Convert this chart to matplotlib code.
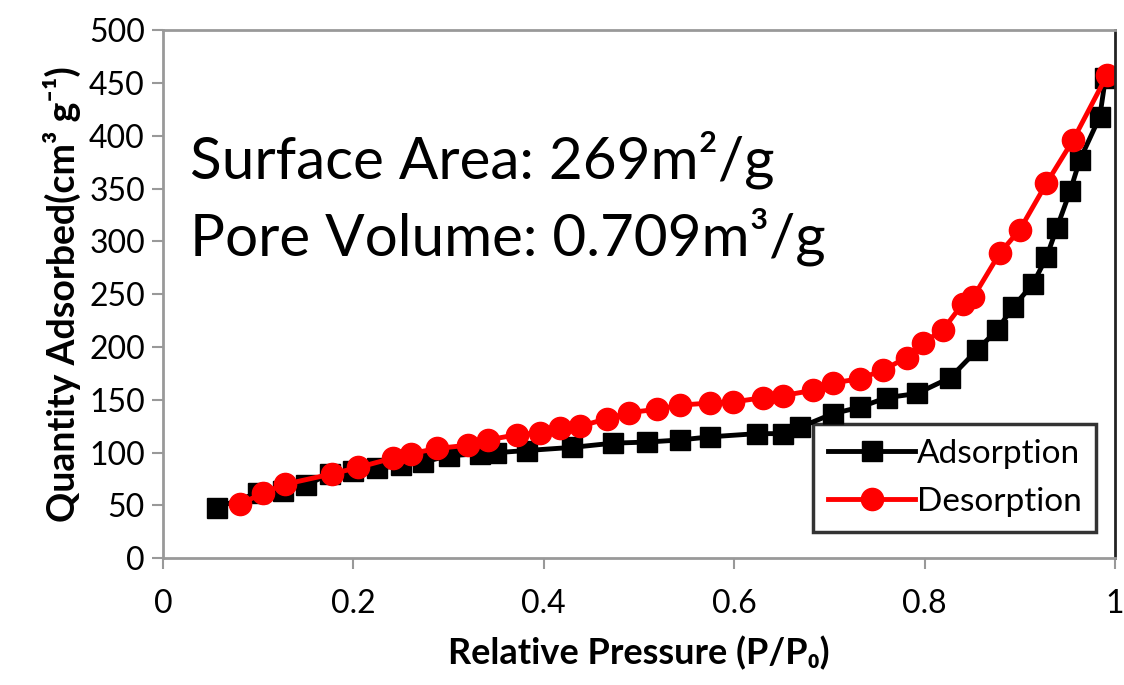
import matplotlib.pyplot as plt

# adsorption branch (squares)
ads_p = [0.057, 0.10, 0.126, 0.15, 0.175, 0.20, 0.225, 0.25, 0.273, 0.30, 0.333, 0.35,
         0.382, 0.43, 0.473, 0.508, 0.543, 0.575, 0.624, 0.651, 0.669, 0.704, 0.732,
         0.76, 0.792, 0.827, 0.855, 0.876, 0.893, 0.914, 0.928, 0.939, 0.953, 0.963,
         0.984, 0.99]
ads_q = [48, 62, 64, 69, 80, 83, 85, 88, 91, 97, 99, 100,
         102, 105, 109, 110, 112, 115, 118, 118, 124, 137, 143,
         152, 156, 171, 197, 216, 238, 260, 285, 313, 348, 377,
         418, 455]

# desorption branch (circles)
des_p = [0.081, 0.105, 0.128, 0.178, 0.205, 0.242, 0.26, 0.288, 0.32, 0.341, 0.372,
         0.396, 0.417, 0.438, 0.466, 0.49, 0.519, 0.543, 0.575, 0.599, 0.63, 0.651,
         0.683, 0.704, 0.732, 0.756, 0.781, 0.798, 0.819, 0.84, 0.851, 0.879, 0.90,
         0.928, 0.956, 0.992]
des_q = [51, 62, 70, 80, 86, 95, 99, 104, 107, 112, 117,
         119, 123, 125, 132, 138, 141, 145, 147, 148, 152, 154,
         159, 166, 170, 178, 190, 204, 216, 241, 247, 289, 311,
         355, 396, 458]

xticks = [0, 0.2, 0.4, 0.6, 0.8, 1]
xtick_labels = ['0', '0.2', '0.4', '0.6', '0.8', '1']
yticks = list(range(0, 501, 50))

plt.rcParams['font.family'] = ['Lato', 'DejaVu Sans']

fig = plt.figure(figsize=(11.24, 6.85), dpi=100)
ax = fig.add_axes([0.145, 0.185, 0.847, 0.771])

ax.plot(ads_p, ads_q, color='black', marker='s', markersize=15, linewidth=3.5,
        label='Adsorption')
ax.plot(des_p, des_q, color='#ff0000', marker='o', markersize=16, linewidth=3.5,
        label='Desorption')

ax.set_xlim(0, 1)
ax.set_ylim(0, 500)
ax.set_xticks(xticks)
ax.set_xticklabels(xtick_labels)
ax.set_yticks(yticks)
ax.tick_params(axis='both', labelsize=23, direction='out', length=8, width=1.5,
               color='#999999')
ax.tick_params(axis='x', pad=14)
ax.tick_params(axis='y', pad=5)

for side in ['left', 'bottom', 'top']:
    ax.spines[side].set_color('#999999')
    ax.spines[side].set_linewidth(2)
ax.spines['right'].set_color('#222222')
ax.spines['right'].set_linewidth(2)

ax.set_xlabel('Relative Pressure (P/P\u2080)', fontsize=26, fontweight='bold', labelpad=12)
ax.set_ylabel('Quantity Adsorbed(cm\u00b3 g\u207b\u00b9)', fontsize=27, fontweight='bold',
              labelpad=6)

ax.text(0.028, 0.72, 'Surface Area: 269m\u00b2/g', transform=ax.transAxes,
        fontsize=42, va='baseline', ha='left')
ax.text(0.028, 0.574, 'Pore Volume: 0.709m\u00b3/g', transform=ax.transAxes,
        fontsize=42, va='baseline', ha='left')

leg = ax.legend(loc='lower right', fontsize=24, frameon=True, fancybox=False,
                edgecolor='black', handlelength=2.6, handletextpad=0.05,
                borderpad=0.45, labelspacing=0.55, bbox_to_anchor=(0.998, 0.018))
leg.get_frame().set_linewidth(2.5)

fig.savefig('out.png', dpi=100)
